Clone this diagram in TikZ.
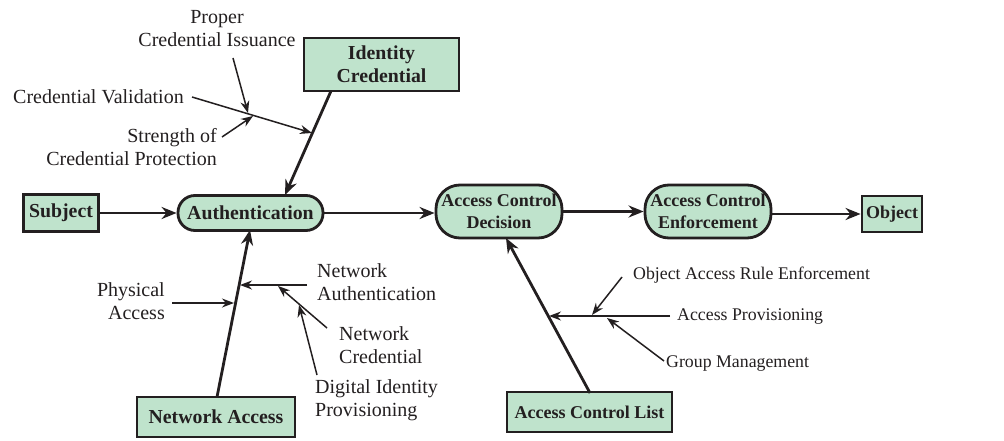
\documentclass[tikz,border=0pt]{standalone}
\usepackage{fontspec}
\setmainfont{Liberation Serif}
\usetikzlibrary{arrows.meta}
\definecolor{boxfill}{RGB}{191,227,204}
\definecolor{ink}{RGB}{35,31,32}
\begin{document}
\begin{tikzpicture}[x=1pt,y=-1pt,
  every node/.style={font=\fontsize{20}{23}\selectfont, text=ink, inner sep=0pt},
  sqbox/.style={draw=ink, line width=2.8pt, fill=boxfill, font=\fontsize{19.8}{23}\selectfont\bfseries, align=center},
  rsmall/.style={font=\fontsize{18}{22}\selectfont\bfseries},
  lsmall/.style={font=\fontsize{17.8}{22}\selectfont},
  main/.style={draw=ink, line width=2.8pt, -{Stealth[length=15pt,width=12pt]}},
  side/.style={draw=ink, line width=1.5pt, -{Stealth[length=12pt,width=9pt]}},
  lbl/.style={align=left}]
\useasboundingbox (0,0) rectangle (1004,441);
% boxes
\node[sqbox, minimum width=75pt, minimum height=37pt] (subject) at (61,213) {Subject};
\node[sqbox, rounded corners=17pt, minimum width=145pt, minimum height=35pt] (auth) at (250.5,213) {Authentication};
\node[sqbox, rsmall, rounded corners=24pt, minimum width=126pt, minimum height=53pt] (acd) at (499,211.5) {Access Control\\Decision};
\node[sqbox, rsmall, rounded corners=24pt, minimum width=126pt, minimum height=53pt] (ace) at (708,211.5) {Access Control\\Enforcement};
\node[sqbox, rsmall, minimum width=60pt, minimum height=36pt] (object) at (892,214) {Object};
\node[sqbox, minimum width=155pt, minimum height=53pt] (idcred) at (381.5,64.5) {Identity\\Credential};
\node[sqbox, minimum width=158pt, minimum height=40pt] (netacc) at (216,417) {Network Access};
\node[sqbox, rsmall, minimum width=165pt, minimum height=40pt] (acl) at (589.5,412) {Access Control List};
% main flow
\draw[main] (subject.east) -- (auth.west);
\draw[main] (auth.east) -- (auth.east -| acd.west);
\draw[main] (acd.east) -- (ace.west);
\draw[main] (ace.east |- object.west) -- (object.west);
% feeding lines
\coordinate (icS) at (331,91);
\coordinate (authN) at (285,195);
\coordinate (naN) at (217,397);
\coordinate (authS) at (250,230);
\coordinate (aclN) at (590,393);
\coordinate (acdS) at (506,238);
\draw[main] (icS) -- (authN);
\draw[main] (naN) -- (authS);
\draw[main] (aclN) -- (acdS);
% labels
\node[align=center] (pci) at (217,29) {Proper\\Credential Issuance};
\node[anchor=west] (cv) at (13,97) {Credential Validation};
\node[align=right, anchor=east] (scp) at (217,147) {Strength of\\Credential Protection};
\node[align=right, anchor=east] (pa) at (165,301) {Physical\\Access};
\node[lbl, anchor=west] (na) at (317,282) {Network\\Authentication};
\node[lbl, anchor=west] (nc) at (339,345) {Network\\Credential};
\node[lbl, anchor=west] (dip) at (315,400) {Digital Identity\\Provisioning};
\node[lsmall, anchor=west] (oare) at (633,275) {Object Access Rule Enforcement};
\node[lsmall, anchor=west] (ap) at (677,317) {Access Provisioning};
\node[lsmall, anchor=west] (gm) at (666,364) {Group Management};
% side arrow coordinates
\coordinate (cv0) at (192,97);   \coordinate (cv1) at (312,133);
\coordinate (pci0) at (233,58);  \coordinate (pci1) at (248,113);
\coordinate (scp0) at (222,137); \coordinate (scp1) at (253,116);
\coordinate (pa0) at (172,303);  \coordinate (pa1) at (234,303);
\coordinate (na0) at (307,285);  \coordinate (na1) at (240,285);
\coordinate (nc0) at (327,328);  \coordinate (nc1) at (278,286);
\coordinate (dip0) at (317,375); \coordinate (dip1) at (299,305);
\coordinate (ap0) at (670,316);  \coordinate (ap1) at (549,316);
\coordinate (oare0) at (622,277); \coordinate (oare1) at (592,315);
\coordinate (gm0) at (664,361);  \coordinate (gm1) at (607,318);
\draw[side] (cv0) -- (cv1);
\draw[side] (pci0) -- (pci1);
\draw[side] (scp0) -- (scp1);
\draw[side] (pa0) -- (pa1);
\draw[side] (na0) -- (na1);
\draw[side] (nc0) -- (nc1);
\draw[side] (dip0) -- (dip1);
\draw[side] (ap0) -- (ap1);
\draw[side] (oare0) -- (oare1);
\draw[side] (gm0) -- (gm1);
\end{tikzpicture}
\end{document}
